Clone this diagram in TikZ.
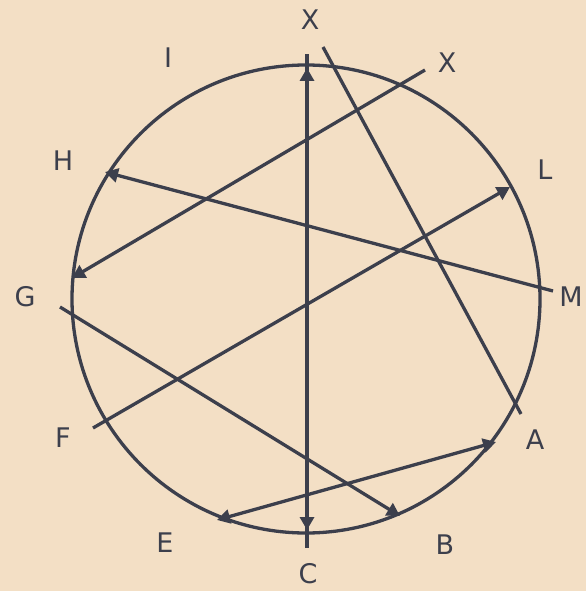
\documentclass[tikz,border=0pt]{standalone}
\usepackage{fontspec}
\setmainfont{DejaVu Sans}
\usetikzlibrary{arrows.meta}
\definecolor{bgc}{HTML}{F3DFC5}
\definecolor{ink}{HTML}{3C3F4C}
\tikzset{
  ln/.style={draw=ink, line width=3.3pt},
  tip/.style={ln, -{Triangle[length=13pt,width=14pt]}},
  tips/.style={ln, {Triangle[length=13pt,width=14pt]}-{Triangle[length=13pt,width=14pt]}},
  lbl/.style={text=ink, font=\fontsize{27}{27}\selectfont, inner sep=0pt}
}
\begin{document}
\begin{tikzpicture}[x=1pt,y=-1pt]
\fill[bgc] (0,0) rectangle (586,591);
\useasboundingbox (0,0) rectangle (586,591);
% circle
\coordinate (O) at (306,299);
\draw[ln] (O) circle[radius=234];
% coordinates
\coordinate (Vt) at (307,54);
\coordinate (Vb) at (307,548);
\coordinate (Mt) at (307,68);
\coordinate (Mb) at (307,530);
\coordinate (Vc) at (307,300);
\coordinate (S1) at (323,47);
\coordinate (S2) at (521,414);
\coordinate (Xe) at (425,70);
\coordinate (Gm) at (72,278);
\coordinate (Hm) at (105,172);
\coordinate (Me) at (553,291);
\coordinate (Fe) at (93,428);
\coordinate (Lm) at (510,187);
\coordinate (Ge) at (60,307);
\coordinate (Bm) at (400,516);
\coordinate (Em) at (217,520);
\coordinate (Am) at (496,442);
% lines
\draw[ln] (Vb) -- (Vt);
\draw[tip] (Vc) -- (Mt);
\draw[tip] (Vc) -- (Mb);
\draw[ln] (S1) -- (S2);
\draw[tip] (Xe) -- (Gm);
\draw[tip] (Me) -- (Hm);
\draw[tip] (Fe) -- (Lm);
\draw[tip] (Ge) -- (Bm);
\draw[tips] (Em) -- (Am);
% labels
\node[lbl] (lX1) at (310,20) {X};
\node[lbl] (lX2) at (447,63) {X};
\node[lbl] (lI) at (168,58) {I};
\node[lbl] (lH) at (63,161) {H};
\node[lbl] (lL) at (545,170) {L};
\node[lbl] (lG) at (25,297) {G};
\node[lbl] (lM) at (571,297) {M};
\node[lbl] (lF) at (63,438) {F};
\node[lbl] (lA) at (535,440) {A};
\node[lbl] (lE) at (165,543) {E};
\node[lbl] (lB) at (445,545) {B};
\node[lbl] (lC) at (308,574) {C};
\end{tikzpicture}
\end{document}
